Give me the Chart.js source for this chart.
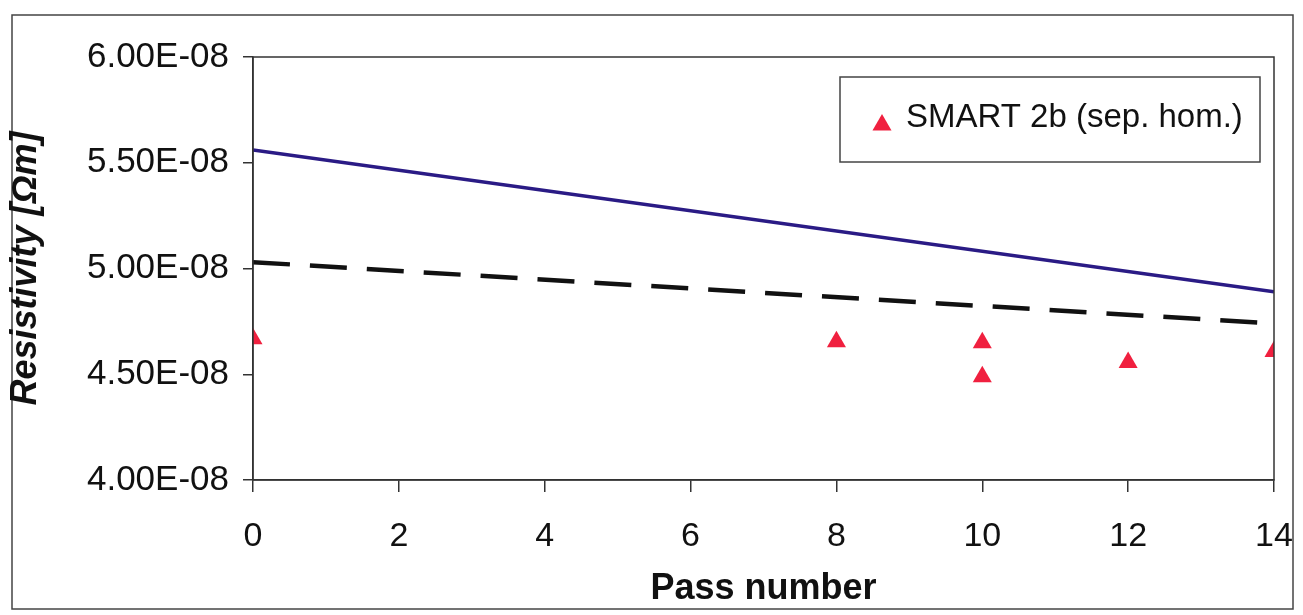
<!DOCTYPE html>
<html>
<head>
<meta charset="utf-8">
<script src="https://cdn.jsdelivr.net/npm/chart.js@4.4.1/dist/chart.umd.min.js"></script>
<style>
  html, body { margin: 0; padding: 0; background: #fff; }
  #wrap { width: 1303px; height: 615px; position: relative; }
</style>
</head>
<body>
<div id="wrap"><canvas id="resistivity" width="1303" height="615"></canvas></div>
<script>
// Valores (resistividade em Ohm.m)
const passNumbers = [0, 8, 10, 10, 12, 14];
const smart2bValues = [4.668e-8, 4.654e-8, 4.649e-8, 4.488e-8, 4.555e-8, 4.607e-8];
const trendPasses = [0, 14];
const solidTrendValues = [5.56e-8, 4.89e-8];
const dashedTrendValues = [5.03e-8, 4.74e-8];
const seriesLabel = 'SMART 2b (sep. hom.)';
const yMin = 4.0e-8, yMax = 6.0e-8, yStep = 0.5e-8;
const xMin = 0, xMax = 14, xStep = 2;

const FONT = '"Liberation Sans", Arial, sans-serif';

function toPoints(xs, ys) {
  return xs.map((x, i) => ({ x: x, y: ys[i] }));
}

// formata 6e-8 como "6.00E-08"
function sciLabel(v) {
  const parts = Number(v).toExponential(2).toUpperCase().split('E');
  const exp = parseInt(parts[1], 10);
  const sign = exp < 0 ? '-' : '+';
  return parts[0] + 'E' + sign + String(Math.abs(exp)).padStart(2, '0');
}

// moldura externa, moldura da área do gráfico e legenda flutuante
const framePlugin = {
  id: 'frame',
  beforeDraw(chart) {
    const ctx = chart.ctx;
    ctx.save();
    ctx.fillStyle = '#fff';
    ctx.fillRect(0, 0, chart.width, chart.height);
    ctx.strokeStyle = '#444';
    ctx.lineWidth = 1.5;
    ctx.strokeRect(12, 15, chart.width - 22, chart.height - 21);
    ctx.restore();
  },
  afterDatasetsDraw(chart) {
    const ctx = chart.ctx;
    const a = chart.chartArea;
    ctx.save();
    ctx.strokeStyle = '#333';
    ctx.lineWidth = 1.5;
    ctx.strokeRect(a.left, a.top, a.right - a.left, a.bottom - a.top);

    // legenda
    const bx = a.right - 434, by = a.top + 20, bw = 420, bh = 85;
    ctx.fillStyle = '#fff';
    ctx.fillRect(bx, by, bw, bh);
    ctx.strokeStyle = '#444';
    ctx.strokeRect(bx, by, bw, bh);
    const ds = chart.data.datasets[0];
    ctx.fillStyle = ds.backgroundColor;
    Chart.helpers.drawPoint(ctx, { pointStyle: 'triangle', radius: 11, rotation: 0, borderWidth: 0 }, bx + 42, by + 48);
    ctx.fillStyle = '#111';
    ctx.font = '33px ' + FONT;
    ctx.textBaseline = 'middle';
    ctx.textAlign = 'left';
    ctx.fillText(ds.label, bx + 66, by + 41);
    ctx.restore();
  }
};

new Chart(document.getElementById('resistivity').getContext('2d'), {
  type: 'scatter',
  data: {
    datasets: [
      {
        label: seriesLabel,
        data: toPoints(passNumbers, smart2bValues),
        backgroundColor: '#f0203f',
        borderColor: '#f0203f',
        borderWidth: 0,
        pointStyle: 'triangle',
        pointRadius: 11,
        pointHoverRadius: 11,
        order: 0
      },
      {
        label: 'trend',
        data: toPoints(trendPasses, solidTrendValues),
        showLine: true,
        borderColor: '#2a1b85',
        borderWidth: 3.5,
        pointRadius: 0,
        order: 2
      },
      {
        label: 'trend dashed',
        data: toPoints(trendPasses, dashedTrendValues),
        showLine: true,
        borderColor: '#111',
        borderWidth: 4.5,
        borderDash: [37, 20],
        pointRadius: 0,
        order: 1
      }
    ]
  },
  options: {
    responsive: false,
    animation: false,
    layout: { padding: { left: 4, right: 29, top: 57, bottom: 4 } },
    plugins: {
      legend: { display: false },
      tooltip: { enabled: false }
    },
    scales: {
      x: {
        type: 'linear',
        min: xMin,
        max: xMax,
        afterFit(scale) {
          scale.height = 131;
          // o "14" pode ultrapassar a área, como no original
          scale.paddingLeft = 0;
          scale.paddingRight = 0;
        },
        border: { display: true, color: '#333', width: 1.5 },
        grid: { display: true, drawOnChartArea: false, drawTicks: true, tickLength: 12, color: '#333', lineWidth: 1.5 },
        ticks: { stepSize: xStep, color: '#111', padding: 24, font: { family: FONT, size: 34 } },
        title: {
          display: true,
          text: 'Pass number',
          color: '#111',
          padding: 0,
          font: { family: FONT, size: 36, weight: 'bold' }
        }
      },
      y: {
        type: 'linear',
        min: yMin,
        max: yMax,
        afterFit(scale) { scale.width = 249; },
        border: { display: true, color: '#333', width: 1.5 },
        grid: { display: true, drawOnChartArea: false, drawTicks: true, tickLength: 10, color: '#333', lineWidth: 1.5 },
        ticks: {
          stepSize: yStep,
          color: '#111',
          padding: 14,
          font: { family: FONT, size: 35 },
          callback: (v) => sciLabel(v)
        },
        title: {
          display: true,
          text: 'Resistivity [Ωm]',
          color: '#111',
          padding: 0,
          font: { family: FONT, size: 36, weight: 'bold', style: 'italic' }
        }
      }
    }
  },
  plugins: [framePlugin]
});
</script>
</body>
</html>
